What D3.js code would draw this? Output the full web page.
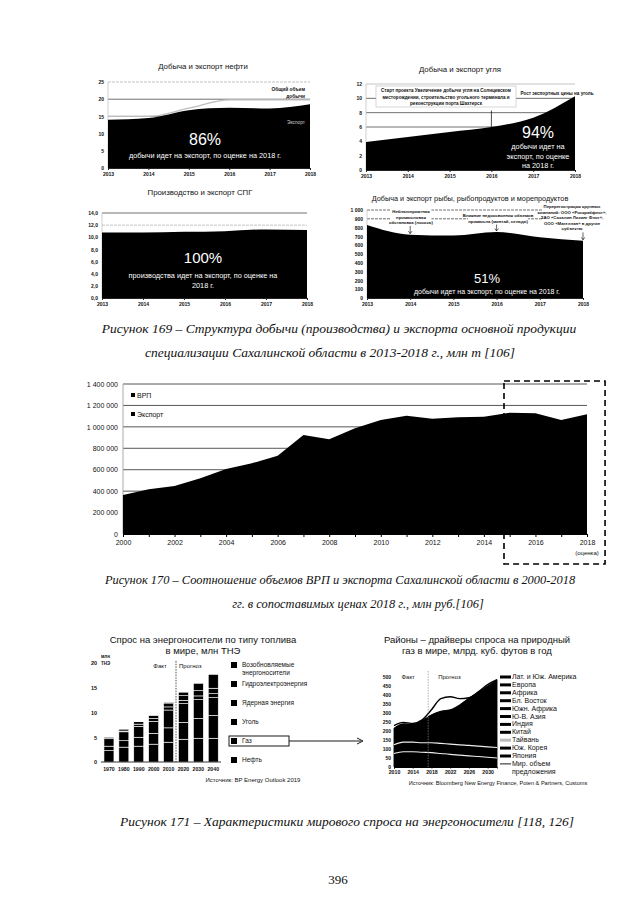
<!DOCTYPE html>
<html lang="ru">
<head>
<meta charset="utf-8">
<script src="https://d3js.org/d3.v7.min.js"></script>
<style>
  body { margin: 0; background: #fff; }
  svg text { font-family: "Liberation Sans", Arial, sans-serif; fill: #111; }
  svg text.cap { font-family: "Liberation Serif", "Times New Roman", serif; font-style: italic; font-size: 13.5px; }
  .axis text { font-size: 5px; }
  .axis path, .axis line { stroke: #222; }
</style>
</head>
<body>
<svg id="page" width="640" height="905"></svg>
<script>
// ---------- data ----------
var years13 = [2013, 2014, 2015, 2016, 2017, 2018];
var oilExport = [14.0, 14.5, 16.8, 17.5, 17.3, 18.5];
var oilTotal = [15.0, 15.0, 17.4, 19.8, 19.8, 19.8];
var oilTicks = [0, 5, 10, 15, 20, 25];
var coalExport = [3.9, 4.6, 5.3, 6.0, 7.3, 10.3];
var coalTicks = [0, 2, 4, 6, 8, 10, 12];
var lngExport = [10.8, 10.8, 10.9, 11.0, 11.3, 11.2];
var lngTicks = [0, 2, 4, 6, 8, 10, 12, 14];
var fishCatch = [830, 720, 710, 750, 690, 650];
var fishTicks = [0, 100, 200, 300, 400, 500, 600, 700, 800, 900, 1000];

var grpYears = [2000, 2001, 2002, 2003, 2004, 2005, 2006, 2007, 2008, 2009,
                2010, 2011, 2012, 2013, 2014, 2015, 2016, 2017, 2018];
var grpValues = [364000, 417000, 448000, 520000, 607000, 660000, 731000, 924000, 884000, 986000,
                 1064000, 1104000, 1076000, 1089000, 1095000, 1132000, 1126000, 1064000, 1117000];
var grpTicks = [0, 200000, 400000, 600000, 800000, 1000000, 1200000, 1400000];
var grpXTicks = [2000, 2002, 2004, 2006, 2008, 2010, 2012, 2014, 2016, 2018];
var grpLegend = ["ВРП", "Экспорт"];

var demandYears = ["1970", "1980", "1990", "2000", "2010", "2020", "2030", "2040"];
var demandFuels = ["Нефть", "Газ", "Уголь", "Ядерная энергия", "Гидроэлектроэнергия", "Возобновляемые энергоносители"];
var dOil     = [2.3, 3.0, 3.2, 3.6, 4.0, 4.6, 4.8, 4.8];
var dGas     = [0.9, 1.3, 1.8, 2.2, 2.9, 3.4, 4.0, 4.6];
var dCoal    = [1.5, 1.8, 2.2, 2.4, 3.6, 3.8, 3.8, 3.6];
var dNuclear = [0.02, 0.16, 0.45, 0.58, 0.63, 0.65, 0.75, 0.8];
var dHydro   = [0.27, 0.39, 0.49, 0.6, 0.78, 0.95, 1.05, 1.1];
var dRenew   = [0.0, 0.01, 0.03, 0.05, 0.17, 0.7, 1.5, 2.8];
var demandTicks = [0, 5, 10, 15, 20];

var gasYears = [2010, 2012, 2014, 2016, 2018, 2020, 2022, 2024, 2026, 2028, 2030, 2032];
var gasRegions = ["Япония", "Юж. Корея", "Тайвань", "Китай", "Индия", "Ю-В. Азия", "Южн. Африка",
                  "Бл. Восток", "Африка", "Европа", "Лат. и Юж. Америка"];
var gJapan   = [75, 85, 85, 82, 80, 75, 70, 66, 62, 58, 54, 50];
var gKorea   = [30, 33, 33, 32, 33, 34, 34, 34, 34, 34, 34, 34];
var gTaiwan  = [18, 20, 20, 21, 22, 22, 23, 23, 24, 24, 24, 24];
var gChina   = [14, 18, 22, 28, 40, 50, 58, 68, 80, 90, 100, 110];
var gIndia   = [8, 8, 8, 9, 11, 13, 15, 18, 22, 26, 30, 34];
var gSEAsia  = [20, 22, 22, 24, 26, 28, 30, 32, 34, 36, 38, 40];
var gSAsia   = [10, 11, 11, 12, 13, 14, 15, 16, 18, 20, 22, 24];
var gMidEast = [10, 12, 12, 14, 16, 18, 20, 22, 24, 28, 32, 36];
var gAfrica  = [3, 4, 4, 5, 6, 7, 8, 10, 12, 14, 16, 18];
var gEurope  = [5, 8, 7, 10, 12, 14, 14, 16, 18, 20, 22, 24];
var gLatAm   = [22, 19, 14, 21, 31, 35, 31, 40, 55, 65, 78, 91];
var gasSupply = [230, 248, 242, 262, 318, 380, 390, 380, 385, 418, 458, 485];
var gasTicks = [0, 50, 100, 150, 200, 250, 300, 350, 400, 450, 500];
var gasXTicks = [2010, 2014, 2018, 2022, 2026, 2030];

var svg = d3.select("#page");

// ---------- small charts of figure 169 ----------
function smallChart(o) {
  var g = svg.append("g");
  var x = d3.scaleLinear().domain([2013, 2018]).range(o.xr);
  var y = d3.scaleLinear().domain([0, o.max]).range(o.yr);

  g.append("text").attr("x", o.titleX).attr("y", o.titleY)
    .attr("text-anchor", "middle").style("font-size", o.titleSize + "px").text(o.title);

  g.selectAll(".grid").data(o.grid).enter().append("line")
    .attr("x1", o.xr[0]).attr("x2", o.xr[1])
    .attr("y1", d => y(d)).attr("y2", d => y(d))
    .attr("stroke", d => o.light.indexOf(d) >= 0 ? "#aaa" : "#333")
    .attr("stroke-width", 0.7)
    .attr("stroke-dasharray", d => o.dashed.indexOf(d) >= 0 ? "3,1" : null);

  g.append("line").attr("x1", o.xr[0]).attr("x2", o.xr[0])
    .attr("y1", o.yr[0]).attr("y2", o.yr[1]).attr("stroke", "#bbb").attr("stroke-width", 0.7);

  var area = d3.area().curve(d3.curveMonotoneX)
    .x((d, i) => x(years13[i])).y0(y(0)).y1(d => y(d));

  if (o.total) {
    g.append("path").attr("d", d3.line().curve(d3.curveMonotoneX)
        .x((d, i) => x(years13[i])).y(d => y(d))(o.total))
      .attr("fill", "none").attr("stroke", "#bdbdbd").attr("stroke-width", 1.3);
  }
  g.append("path").attr("d", area(o.values)).attr("fill", "#000");

  g.append("g").attr("class", "axis")
    .attr("transform", "translate(" + (o.xr[0] - 1) + ",0)")
    .call(d3.axisLeft(y).tickValues(o.ticks).tickSize(0).tickPadding(3).tickFormat(o.fmt))
    .call(s => s.select(".domain").remove())
    .selectAll("text").style("font-weight", "bold");

  g.append("g").attr("class", "axis")
    .attr("transform", "translate(0," + o.yr[0] + ")")
    .call(d3.axisBottom(x).tickValues(years13).tickSize(2).tickPadding(2).tickFormat(d3.format("d")))
    .selectAll("text").style("font-weight", "bold");

  o.big.forEach(function (b) {
    g.append("text").attr("x", b.x).attr("y", b.y).attr("text-anchor", "middle")
      .style("fill", "#fff").style("font-size", b.s + "px").text(b.t);
  });
  return { g: g, x: x, y: y };
}

// oil
var oil = smallChart({
  title: "Добыча и экспорт нефти", titleX: 203, titleY: 69, titleSize: 7.8,
  xr: [108, 310], yr: [168, 82], max: 25, ticks: oilTicks, grid: [15, 20, 25], light: [25], dashed: [25],
  values: oilExport, total: oilTotal, fmt: d3.format("d"),
  big: [{ t: "86%", x: 205, y: 145, s: 16 },
        { t: "добычи идет на экспорт, по оценке на 2018 г.", x: 205, y: 158, s: 7.3 }]
});
oil.g.append("text").attr("x", 305).attr("y", 91).attr("text-anchor", "end")
  .style("font-size", "4.8px").style("font-weight", "bold").text("Общий объем");
oil.g.append("text").attr("x", 305).attr("y", 98).attr("text-anchor", "end")
  .style("font-size", "4.8px").style("font-weight", "bold").text("добычи");
oil.g.append("text").attr("x", 305).attr("y", 124).attr("text-anchor", "end")
  .style("font-size", "4.8px").style("fill", "#ccc").text("Экспорт");

// coal
var coal = smallChart({
  title: "Добыча и экспорт угля", titleX: 460, titleY: 72, titleSize: 7.8,
  xr: [366, 575], yr: [170, 84], max: 12, ticks: coalTicks, grid: [6, 8, 10, 12], light: [12], dashed: [],
  values: coalExport, fmt: d3.format("d"),
  big: [{ t: "94%", x: 538, y: 138, s: 16 },
        { t: "добычи идет на", x: 538, y: 149, s: 7.3 },
        { t: "экспорт, по оценке", x: 538, y: 158.5, s: 7.3 },
        { t: "на 2018 г.", x: 538, y: 168, s: 7.3 }]
});
coal.g.append("line").attr("x1", coal.x(2016)).attr("x2", coal.x(2016))
  .attr("y1", coal.y(8.3)).attr("y2", coal.y(coalExport[3])).attr("stroke", "#000").attr("stroke-width", 0.7);
coal.g.append("rect").attr("x", 376).attr("y", 86).attr("width", 140).attr("height", 21)
  .attr("fill", "#fff").attr("stroke", "#bbb").attr("stroke-width", 0.6);
["Старт проекта Увеличение добычи угля на Солнцевском",
 "месторождении, строительство угольного терминала и",
 "реконструкции порта Шахтерск"].forEach(function (t, i) {
  coal.g.append("text").attr("x", 446).attr("y", 92 + i * 6.5).attr("text-anchor", "middle")
    .style("font-size", "4.6px").style("font-weight", "bold").text(t);
});
coal.g.append("text").attr("x", 557).attr("y", 95).attr("text-anchor", "middle")
  .style("font-size", "4.6px").style("font-weight", "bold").text("Рост экспортных цены на уголь");

// LNG
var lng = smallChart({
  title: "Производство и экспорт СПГ", titleX: 200, titleY: 195, titleSize: 7.8,
  xr: [102, 307], yr: [298, 213], max: 14, ticks: lngTicks, grid: [12, 14], light: [12], dashed: [12],
  values: lngExport, fmt: d3.format(".1f"),
  big: [{ t: "100%", x: 203, y: 263, s: 15 },
        { t: "производства идет на экспорт, по оценке на", x: 203, y: 278, s: 7.3 },
        { t: "2018 г.", x: 203, y: 288, s: 7.3 }]
});
lng.g.selectAll(".axis text").text(function () { return d3.select(this).text().replace(".", ","); });

// fish
var fish = smallChart({
  title: "Добыча и экспорт рыбы, рыбопродуктов и морепродуктов", titleX: 470, titleY: 201, titleSize: 7.3,
  xr: [367, 583], yr: [298, 210], max: 1000, ticks: fishTicks, grid: [900, 1000], light: [], dashed: [900, 1000],
  values: fishCatch, fmt: d => d3.format(",")(d).replace(/,/g, " "),
  big: [{ t: "51%", x: 487, y: 283, s: 13 },
        { t: "добычи идет на экспорт, по оценке на 2018 г.", x: 487, y: 294, s: 7 }]
});
function fishNote(lines, cx, y0, step, year) {
  var top = y0 + (lines.length - 1) * step + 2;
  var maxLen = d3.max(lines, t => t.length) * 2.15;
  fish.g.append("rect").attr("x", cx - maxLen / 2).attr("y", y0 - 4.5)
    .attr("width", maxLen).attr("height", top - y0 + 3).attr("fill", "#fff");
  lines.forEach(function (t, i) {
    fish.g.append("text").attr("x", cx).attr("y", y0 + i * step).attr("text-anchor", "middle")
      .style("font-size", "4.3px").style("font-weight", "bold").text(t);
  });
  var ax = fish.x(year), bot = fish.y(fishCatch[years13.indexOf(year)]) - 1;
  fish.g.append("line").attr("x1", ax).attr("x2", ax).attr("y1", top).attr("y2", bot)
    .attr("stroke", "#000").attr("stroke-width", 0.6);
  fish.g.append("path").attr("d", "M" + (ax - 1.8) + "," + (bot - 2.5) + "L" + ax + "," + bot + "L" + (ax + 1.8) + "," + (bot - 2.5))
    .attr("fill", "none").attr("stroke", "#000").attr("stroke-width", 0.6);
}
fishNote(["Неблагоприятная", "промысловая", "обстановка (лосось)"], 411, 213, 5.5, 2014);
fishNote(["Влияние недоосвоения объемов", "промысла (минтай, сельдь)"], 498, 217, 5.5, 2016);
fishNote(["Перерегистрация крупных", "компаний: ООО «Роскрабфлот»,", "ЗАО «Сахалин Лизинг Флот»,",
          "ООО «Магеллан» в другие", "субъекты"], 572, 208, 5.6, 2018);

// caption 169
svg.append("text").attr("class", "cap").attr("x", 339).attr("y", 333).attr("text-anchor", "middle")
  .text("Рисунок 169 – Структура добычи (производства) и экспорта основной продукции");
svg.append("text").attr("class", "cap").attr("x", 330).attr("y", 357).attr("text-anchor", "middle")
  .text("специализации Сахалинской области в 2013-2018 г., млн т [106]");

// ---------- figure 170 ----------
(function () {
  var g = svg.append("g");
  var x = d3.scaleLinear().domain([2000, 2018]).range([123, 587]);
  var y = d3.scaleLinear().domain([0, 1400000]).range([534, 384]);

  g.selectAll(".grid").data(grpTicks.filter(d => d > 0)).enter().append("line")
    .attr("x1", x(2000)).attr("x2", x(2018)).attr("y1", d => y(d)).attr("y2", d => y(d))
    .attr("stroke", "#444").attr("stroke-width", 0.9);
  g.append("line").attr("x1", x(2000)).attr("x2", x(2000)).attr("y1", y(0)).attr("y2", y(1400000))
    .attr("stroke", "#aaa").attr("stroke-width", 1);

  // forecast frame
  var bx0 = x(2014.78), bx1 = x(2018.7), by0 = y(1400000) - 3, by1 = 564;
  g.append("rect").attr("x", bx0).attr("y", by0).attr("width", bx1 - bx0).attr("height", by1 - by0)
    .attr("fill", "none").attr("stroke", "#000").attr("stroke-width", 1.6).attr("stroke-dasharray", "6,4");

  g.append("path").datum(grpValues)
    .attr("d", d3.area().x((d, i) => x(grpYears[i])).y0(y(0)).y1(d => y(d)))
    .attr("fill", "#000");

  var ya = g.append("g").attr("transform", "translate(" + (x(2000) - 3) + ",0)")
    .call(d3.axisLeft(y).tickValues(grpTicks).tickSize(0).tickPadding(2)
      .tickFormat(d => d3.format(",")(d).replace(/,/g, " ")));
  ya.select(".domain").remove();
  ya.selectAll("text").style("font-size", "7px");

  var xa = g.append("g").attr("transform", "translate(0," + y(0) + ")")
    .call(d3.axisBottom(x).tickValues(grpYears).tickSize(3).tickPadding(3)
      .tickFormat(d => grpXTicks.indexOf(d) >= 0 ? d : ""));
  xa.selectAll("text").style("font-size", "7px");
  xa.select(".domain").attr("stroke", "#000");
  g.append("text").attr("x", x(2018)).attr("y", 555).attr("text-anchor", "middle")
    .style("font-size", "6px").text("(оценка)");

  grpLegend.forEach(function (name, i) {
    g.append("rect").attr("x", 131).attr("y", 393 + i * 19).attr("width", 4).attr("height", 4).attr("fill", "#000");
    g.append("text").attr("x", 137).attr("y", 397.5 + i * 19).style("font-size", "7px").text(name);
  });
})();

svg.append("text").attr("class", "cap").attr("x", 340).attr("y", 584).attr("text-anchor", "middle")
  .style("font-size", "12.4px")
  .text("Рисунок 170 – Соотношение объемов ВРП и экспорта Сахалинской области в 2000-2018");
svg.append("text").attr("class", "cap").attr("x", 358).attr("y", 608).attr("text-anchor", "middle")
  .style("font-size", "12.4px")
  .text("гг. в сопоставимых ценах 2018 г., млн руб.[106]");

// ---------- figure 171 left: demand by fuel ----------
(function () {
  var g = svg.append("g");
  g.append("text").attr("x", 203).attr("y", 643).attr("text-anchor", "middle").style("font-size", "9.5px")
    .text("Спрос на энергоносители по типу топлива");
  g.append("text").attr("x", 203).attr("y", 654).attr("text-anchor", "middle").style("font-size", "9.5px")
    .text("в мире, млн ТНЭ");

  var x = d3.scaleBand().domain(demandYears).range([101.5, 220.7]).paddingInner(0.33).paddingOuter(0.165);
  var y = d3.scaleLinear().domain([0, 20]).range([762, 663]);
  var cols = [dOil, dGas, dCoal, dNuclear, dHydro, dRenew];
  var rows = demandYears.map(function (yr, i) {
    var r = { year: yr };
    demandFuels.forEach(function (f, k) { r[f] = cols[k][i]; });
    return r;
  });
  var series = d3.stack().keys(demandFuels)(rows);

  g.selectAll(".layer").data(series).enter().append("g")
    .selectAll("rect").data(d => d).enter().append("rect")
    .attr("x", d => x(d.data.year)).attr("width", x.bandwidth())
    .attr("y", d => y(d[1])).attr("height", d => Math.max(0, y(d[0]) - y(d[1])))
    .attr("fill", "#000").attr("stroke", "#fff").attr("stroke-width", 0.6);

  g.append("line").attr("x1", 101).attr("x2", 221).attr("y1", y(0)).attr("y2", y(0)).attr("stroke", "#000").attr("stroke-width", 0.8);

  var ya = g.append("g").attr("transform", "translate(97,0)")
    .call(d3.axisLeft(y).tickValues(demandTicks).tickSize(0).tickPadding(0));
  ya.select(".domain").remove();
  ya.selectAll("text").style("font-size", "5.5px").style("font-weight", "bold");
  g.append("text").attr("x", 101).attr("y", 658).style("font-size", "4.5px").style("font-weight", "bold").text("млн");
  g.append("text").attr("x", 101).attr("y", 665).style("font-size", "4.5px").style("font-weight", "bold").text("ТНЭ");

  var xa = g.append("g").attr("transform", "translate(0," + (y(0) + 1) + ")")
    .call(d3.axisBottom(x).tickSize(0).tickPadding(4));
  xa.select(".domain").remove();
  xa.selectAll("text").style("font-size", "5.2px").style("font-weight", "bold");

  var divX = (x("2010") + x("2020") + x.bandwidth()) / 2;
  g.append("line").attr("x1", divX).attr("x2", divX).attr("y1", 661).attr("y2", y(0))
    .attr("stroke", "#000").attr("stroke-width", 0.7).attr("stroke-dasharray", "1.5,1.2");
  g.append("text").attr("x", divX - 16).attr("y", 668).attr("text-anchor", "middle").style("font-size", "6px").text("Факт");
  g.append("text").attr("x", divX + 3).attr("y", 668).style("font-size", "6px").text("Прогноз");

  demandFuels.forEach(function (f, k) {
    var ly = 667 + (5 - k) * 19;
    g.append("rect").attr("x", 231).attr("y", ly - 5).attr("width", 6).attr("height", 6).attr("fill", "#000");
    if (k === 5) {
      g.append("text").attr("x", 242).attr("y", ly).style("font-size", "6.5px").text("Возобновляемые");
      g.append("text").attr("x", 242).attr("y", ly + 8).style("font-size", "6.5px").text("энергоносители");
    } else {
      g.append("text").attr("x", 242).attr("y", ly).style("font-size", "6.5px").text(f);
    }
  });
  // highlight of gas
  var gy = 667 + 4 * 19;
  g.append("rect").attr("x", 229).attr("y", gy - 7).attr("width", 60).attr("height", 10)
    .attr("fill", "none").attr("stroke", "#000").attr("stroke-width", 0.9);
  g.append("line").attr("x1", 289).attr("x2", 361).attr("y1", gy - 2).attr("y2", gy - 2)
    .attr("stroke", "#000").attr("stroke-width", 0.9);
  g.append("path").attr("d", "M357," + (gy - 5) + "L363," + (gy - 2) + "L357," + (gy + 1))
    .attr("fill", "none").attr("stroke", "#000").attr("stroke-width", 0.9);

  g.append("text").attr("x", 253).attr("y", 782).attr("text-anchor", "middle").style("font-size", "6px")
    .text("Источник: BP Energy Outlook 2019");
})();

// ---------- figure 171 right: gas demand by region ----------
(function () {
  var g = svg.append("g");
  g.append("text").attr("x", 477).attr("y", 643).attr("text-anchor", "middle").style("font-size", "9.5px")
    .text("Районы – драйверы спроса на природный");
  g.append("text").attr("x", 477).attr("y", 654).attr("text-anchor", "middle").style("font-size", "9.5px")
    .text("газ в мире, млрд. куб. футов в год");

  var x = d3.scaleLinear().domain([2010, 2032]).range([394, 497]);
  var y = d3.scaleLinear().domain([0, 500]).range([767, 677]);
  var cols = [gJapan, gKorea, gTaiwan, gChina, gIndia, gSEAsia, gSAsia, gMidEast, gAfrica, gEurope, gLatAm];
  var rows = gasYears.map(function (yr, i) {
    var r = { year: yr };
    gasRegions.forEach(function (n, k) { r[n] = cols[k][i]; });
    return r;
  });
  var series = d3.stack().keys(gasRegions)(rows);
  var area = d3.area().curve(d3.curveMonotoneX)
    .x(d => x(d.data.year)).y0(d => y(d[0])).y1(d => y(d[1]));

  // backing of the whole stack, so layer seams do not show
  var topLayer = series[series.length - 1];
  g.append("path").datum(topLayer)
    .attr("d", d3.area().curve(d3.curveMonotoneX).x(d => x(d.data.year)).y0(y(0)).y1(d => y(d[1])))
    .attr("fill", "#000");
  g.selectAll(".layer").data(series).enter().append("path")
    .attr("d", area).attr("fill", "#000").attr("stroke", "#000").attr("stroke-width", 0.9);
  // white separators at the top of Japan and Taiwan layers
  [0, 2].forEach(function (k) {
    g.append("path").datum(series[k])
      .attr("d", d3.line().curve(d3.curveMonotoneX).x(d => x(d.data.year)).y(d => y(d[1])))
      .attr("fill", "none").attr("stroke", "#eee").attr("stroke-width", 1.1);
  });

  g.append("path").datum(gasSupply)
    .attr("d", d3.line().curve(d3.curveMonotoneX).x((d, i) => x(gasYears[i])).y(d => y(d)))
    .attr("fill", "none").attr("stroke", "#000").attr("stroke-width", 1.4);

  var ya = g.append("g").attr("transform", "translate(391,0)")
    .call(d3.axisLeft(y).tickValues(gasTicks).tickSize(0).tickPadding(0));
  ya.select(".domain").remove();
  ya.selectAll("text").style("font-size", "5px").style("font-weight", "bold");

  var xa = g.append("g").attr("transform", "translate(0," + y(0) + ")")
    .call(d3.axisBottom(x).tickValues(gasXTicks).tickSize(1.5).tickPadding(1.5).tickFormat(d3.format("d")));
  xa.select(".domain").attr("stroke", "#000");
  xa.selectAll("text").style("font-size", "5.2px").style("font-weight", "bold");

  var divX = x(2017.3);
  g.append("line").attr("x1", divX).attr("x2", divX).attr("y1", 671).attr("y2", y(0))
    .attr("stroke", "#888").attr("stroke-width", 0.7).attr("stroke-dasharray", "1.5,1.2");
  g.append("text").attr("x", divX - 20).attr("y", 679).attr("text-anchor", "middle").style("font-size", "6px").text("Факт");
  g.append("text").attr("x", divX + 10).attr("y", 679).style("font-size", "6px").text("Прогноз");

  var legendNames = gasRegions.slice().reverse().concat(["Мир. объем"]);
  legendNames.forEach(function (n, i) {
    var ly = 679 + i * 7.9;
    var k = gasRegions.length - 1 - i;
    if (i < gasRegions.length) {
      g.append("rect").attr("x", 500).attr("y", ly - 3.5).attr("width", 11).attr("height", 3)
        .attr("fill", k === 2 ? "#bbb" : "#000");
    } else {
      g.append("line").attr("x1", 500).attr("x2", 511).attr("y1", ly - 2).attr("y2", ly - 2)
        .attr("stroke", "#000").attr("stroke-width", 0.9);
    }
    g.append("text").attr("x", 512).attr("y", ly).style("font-size", "7px").text(n);
  });
  g.append("text").attr("x", 512).attr("y", 679 + 12 * 7.9).style("font-size", "7px").text("предложения");

  g.append("text").attr("x", 498).attr("y", 785).attr("text-anchor", "middle").style("font-size", "5.6px")
    .text("Источник: Bloomberg New Energy Finance, Poten & Partners, Customs");
})();

svg.append("text").attr("class", "cap").attr("x", 347).attr("y", 826).attr("text-anchor", "middle")
  .text("Рисунок 171 – Характеристики мирового спроса на энергоносители [118, 126]");

svg.append("text").attr("x", 338).attr("y", 884).attr("text-anchor", "middle")
  .style("font-family", "Liberation Serif, serif").style("font-size", "13px").text("396");
</script>
</body>
</html>
